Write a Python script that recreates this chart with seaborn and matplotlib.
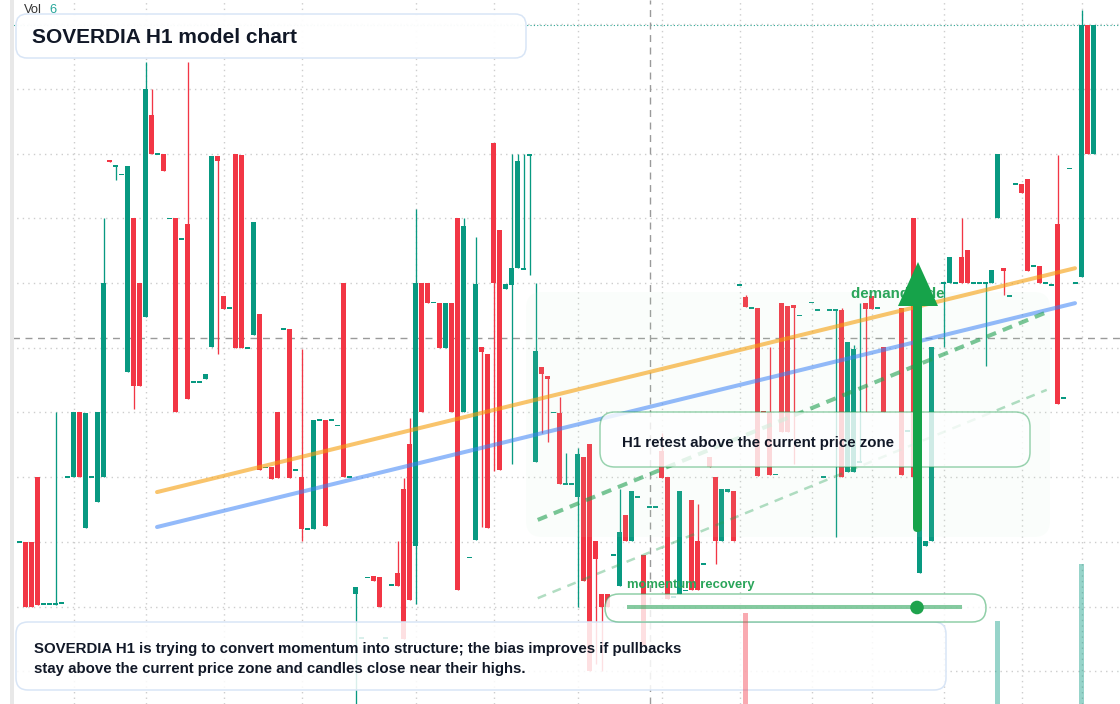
import numpy as np
import pandas as pd
import matplotlib
matplotlib.use("Agg")
import matplotlib.pyplot as plt
import seaborn as sns
from matplotlib.patches import FancyBboxPatch, Polygon, Rectangle, Circle
from matplotlib.colors import to_rgba

nan = np.nan

# ---------------- data (price in grid units, one candle per hour) ----------------
opens = [
    2.00, 2.00, 2.00, 3.00, 1.04, 1.04, 1.03, 1.06, 3.00, 3.00,
    4.00, 2.22, 3.00, 2.62, 3.00, 7.90, 7.79, 7.68, 4.62, 7.00,
    6.00, 5.47, 8.60, 8.00, 8.00, 7.00, 7.00, 6.68, 6.91, 4.47,
    4.47, 4.52, 5.01, 7.96, 5.80, 5.61, 8.00, 7.98, 5.00, 5.20,
    5.52, 3.15, 3.15, 4.00, 5.29, 5.29, 3.11, 3.00, 2.20, 2.20,
    3.88, 3.88, 3.88, 3.80, 6.00, 3.00, 1.19, 0.51, 1.45, 1.48,
    1.45, 0.51, 1.33, 1.52, 2.82, 3.51, 1.93, 6.00, 6.00, 5.70,
    5.70, 5.00, 5.70, 7.00, 4.00, 1.76, 2.03, 5.01, 4.90, 8.17,
    6.82, 5.91, 5.97, 6.24, 6.22, 7.97, 3.24, 4.70, 4.56, 4.00,
    3.99, 2.90, 2.90, 2.70, 3.31, 3.51, 2.01, 1.19, 1.19, 1.80,
    1.32, 2.41, 2.01, 2.69, 1.80, 2.54, 2.54, 3.40, 3.00, 1.15,
    1.19, 1.25, 2.64, 2.01, 1.66, 3.31, 3.00, 2.01, 2.77, 2.78,
    5.97, 5.79, 5.61, 5.61, 4.02, 4.01, 3.04, 5.69, 5.64, 5.66,
    5.50, nan, 5.70, 5.58, 3.00, 5.58, 5.58, 5.58, 3.08, 3.08,
    3.24, 5.69, 5.80, 5.61, 5.01, nan, nan, 5.61, 3.71, 7.00,
    1.52, 1.93, 2.01, nan, 6.00, 6.00, 6.00, 6.40, 6.51, 6.00,
    6.00, 6.00, 6.00, 7.00, 6.23, 5.80, 7.53, 7.53, 7.61, 6.26,
    6.26, 6.00, 5.97, 6.91, 4.22, 7.77, 6.00, 6.09, 9.99, 8.00,
]
highs = [
    2.00, 2.00, 2.00, 3.00, 1.04, 1.04, 4.00, 1.06, 3.00, 4.00,
    4.00, 3.99, 3.00, 4.00, 7.00, 7.90, 7.83, 7.68, 7.81, 7.00,
    6.00, 9.41, 9.00, 8.00, 8.00, 7.00, 7.00, 6.68, 9.41, 4.47,
    4.47, 4.59, 7.97, 7.96, 5.80, 5.61, 8.00, 7.98, 5.00, 6.94,
    5.52, 3.15, 3.15, 4.00, 5.29, 5.29, 3.11, 4.98, 2.20, 3.88,
    3.88, 3.88, 3.88, 3.80, 6.00, 3.00, 1.31, 0.51, 1.45, 1.48,
    1.45, 0.51, 1.33, 2.01, 2.98, 3.92, 7.15, 6.00, 6.00, 5.70,
    5.70, 5.70, 5.70, 7.00, 7.00, 1.76, 6.72, 5.01, 4.90, 8.17,
    6.82, 5.99, 8.00, 8.00, 8.00, 8.00, 6.00, 4.70, 4.56, 4.00,
    4.24, 3.38, 2.90, 3.45, 3.31, 3.51, 2.01, 1.19, 1.19, 1.80,
    2.81, 2.41, 2.78, 2.69, 1.80, 2.54, 2.54, 3.68, 3.00, 1.15,
    2.78, 1.25, 2.64, 2.58, 1.66, 3.31, 3.00, 2.81, 2.81, 2.78,
    5.97, 5.81, 5.61, 5.61, 4.02, 5.01, 3.04, 5.69, 5.64, 5.66,
    5.50, nan, 5.70, 5.58, 3.00, 5.58, 5.58, 5.62, 5.09, 5.04,
    5.70, 5.69, 5.80, 5.61, 5.01, nan, nan, 5.61, 3.71, 7.00,
    3.00, 2.01, 5.01, nan, 6.00, 6.40, 6.00, 7.00, 6.51, 6.00,
    6.00, 6.00, 6.20, 8.00, 6.23, 5.80, 7.53, 7.53, 7.61, 6.26,
    6.26, 6.00, 5.97, 7.98, 4.22, 7.77, 6.00, 10.22, 9.99, 9.99,
]
lows = [
    2.00, 1.00, 1.00, 1.03, 1.04, 1.04, 1.03, 1.06, 3.00, 3.00,
    3.00, 2.22, 3.00, 2.62, 3.00, 7.87, 7.59, 7.68, 4.62, 4.05,
    4.41, 5.47, 8.00, 8.00, 7.73, 7.00, 4.00, 6.68, 4.21, 4.47,
    4.47, 4.52, 5.01, 4.90, 5.60, 5.61, 5.00, 5.00, 5.00, 5.20,
    3.11, 3.15, 2.97, 2.99, 5.29, 2.99, 3.11, 2.01, 2.20, 2.20,
    3.88, 2.25, 3.88, 3.80, 3.00, 3.00, -0.60, 0.51, 1.45, 1.40,
    1.00, 0.51, 1.33, 1.32, 0.50, 1.10, 1.04, 4.00, 5.70, 5.70,
    5.00, 5.00, 4.00, 1.25, 4.00, 1.76, 2.03, 2.23, 2.22, 3.10,
    3.11, 5.91, 3.21, 6.24, 6.22, 6.13, 3.24, 3.69, 3.54, 4.00,
    2.90, 2.90, 2.90, 1.00, 1.40, 0.01, 0.11, 0.00, 1.00, 1.80,
    1.32, 2.01, 2.01, 2.69, 0.41, 2.54, 2.54, 2.99, 1.11, 1.15,
    1.19, 1.25, 1.25, 1.25, 1.66, 3.15, 1.66, 2.01, 2.77, 2.01,
    5.97, 5.63, 5.61, 3.02, 4.00, 3.04, 3.04, 3.70, 3.70, 3.21,
    5.50, nan, 5.70, 5.58, 3.00, 5.58, 2.08, 3.01, 3.08, 3.08,
    3.24, 4.00, 5.60, 5.61, 4.00, nan, nan, 3.03, 3.71, 3.00,
    1.52, 1.93, 2.01, nan, 5.01, 6.00, 6.00, 6.00, 6.00, 6.00,
    6.00, 4.72, 6.00, 7.00, 5.81, 5.80, 7.53, 7.39, 6.18, 6.26,
    6.00, 6.00, 5.97, 4.13, 4.22, 7.77, 6.00, 6.09, 8.00, 8.00,
]
closes = [
    2.00, 1.00, 1.00, 1.03, 1.04, 1.04, 1.06, 1.06, 3.00, 4.00,
    3.00, 3.99, 3.00, 4.00, 6.00, 7.87, 7.83, 7.68, 7.81, 4.41,
    4.41, 9.00, 8.00, 8.00, 7.73, 7.00, 4.00, 6.68, 4.21, 4.47,
    4.47, 4.59, 7.97, 7.89, 5.60, 5.61, 5.00, 5.00, 5.00, 6.94,
    3.11, 3.15, 2.97, 2.99, 5.29, 2.99, 3.11, 2.20, 2.20, 3.88,
    3.88, 2.25, 3.88, 3.80, 3.00, 3.00, 1.31, 0.51, 1.45, 1.40,
    1.00, 0.51, 1.33, 1.32, 0.50, 1.10, 6.00, 4.00, 5.70, 5.70,
    5.00, 5.70, 4.00, 1.25, 6.88, 1.76, 5.98, 4.93, 2.22, 6.00,
    3.11, 5.99, 6.24, 7.88, 6.22, 8.00, 4.95, 4.60, 4.52, 4.00,
    2.90, 2.90, 2.90, 3.36, 1.40, 0.01, 1.74, 1.00, 1.00, 1.80,
    2.15, 2.01, 2.78, 2.69, 0.41, 2.54, 2.54, 2.99, 1.11, 1.15,
    2.78, 1.25, 1.25, 1.25, 1.66, 3.15, 2.01, 2.81, 2.81, 2.01,
    5.97, 5.63, 5.61, 3.02, 4.00, 3.04, 3.04, 3.70, 3.70, 5.61,
    5.50, nan, 5.70, 5.58, 3.00, 5.58, 5.58, 3.01, 5.09, 4.98,
    3.24, 5.60, 5.60, 5.61, 4.00, nan, nan, 3.03, 3.71, 3.00,
    3.00, 2.01, 5.01, nan, 6.00, 6.40, 6.00, 6.00, 6.00, 6.00,
    6.00, 6.00, 6.20, 8.00, 6.19, 5.80, 7.53, 7.39, 6.18, 6.26,
    6.00, 6.00, 5.97, 4.13, 4.22, 7.77, 6.00, 9.99, 8.00, 9.99,
]

vol_index = [121, 163, 177]
vol_value = [9.1, 8.3, 14.0]

grid_prices = [0, 1, 2, 3, 4, 5, 6, 7, 8, 9, 10]
time_grid_index = [9, 21, 34, 47, 66, 79, 93, 107, 120, 132, 142, 154, 167, 177]

trend_x = [22.92, 175.92]
orange_trend = [2.77, 6.23]
blue_trend = [2.23, 5.69]
channel_x = [86.37, 171.2]
channel_upper = [2.34, 5.55]
channel_lower = [1.13, 4.35]
cross_index = 105
cross_price = 5.15

title_text = "SOVERDIA H1 model chart"
note_lines = ["SOVERDIA H1 is trying to convert momentum into structure; the bias improves if pullbacks",
              "stay above the current price zone and candles close near their highs."]
retest_text = "H1 retest above the current price zone"
momentum_text = "momentum recovery"
demand_text = "demand fade"
vol_label = "Vol"
vol_last = "6"

# ---------------- style ----------------
sns.set_theme(style="white")
plt.rcParams['font.family'] = ['Liberation Sans', 'DejaVu Sans']

W, H = 1120, 704
PX_UNIT = 64.7      # pixels per price unit
Y_ZERO = 671.3      # pixel row of price 0
X0, DX = 19.5, 6.0  # pixel centre of first candle, spacing

GREEN = '#089981'
RED = '#f23645'
TXT = '#111827'
ZG = '#22a052'

fig = plt.figure(figsize=(W / 100, H / 100), dpi=100)
ax = fig.add_axes([0, 0, 1, 1])
ax.set_facecolor('white')

df = pd.DataFrame(dict(i=np.arange(len(opens)), o=opens, h=highs, l=lows, c=closes)).dropna()
up = df.c >= df.o
cols = np.where(up, GREEN, RED)

minh = 1.7 / PX_UNIT
lo = np.minimum(df.o, df.c).to_numpy()
hi = np.maximum(df.o, df.c).to_numpy()
mid = (lo + hi) / 2
small = (hi - lo) < minh
lo = np.where(small, mid - minh / 2, lo)
hi = np.where(small, mid + minh / 2, hi)

ax.vlines(df.i, df.l, df.h, colors=cols, lw=0.95, zorder=2)
ax.bar(df.i, hi - lo, bottom=lo, width=5 / 6, color=cols, lw=0, zorder=2.5)

ax.set_xlim((0 - X0) / DX, (W - X0) / DX)
ax.set_ylim((Y_ZERO - H) / PX_UNIT, Y_ZERO / PX_UNIT)
ax.set_yticks(grid_prices)
ax.set_xticks(time_grid_index)
ax.grid(True, color='#cdcdcd', lw=1.0, ls=(0, (1, 3)))
ax.set_axisbelow(True)
ax.tick_params(length=0, labelleft=False, labelbottom=False)
for s in ax.spines.values():
    s.set_visible(False)

# last price line
ax.axhline(closes[-1], color=GREEN, lw=0.8, ls=(0, (1, 2)), alpha=0.85, zorder=1.5)
# crosshair
ax.axvline(cross_index, color='#9a9a9a', lw=1.0, ls=(0, (5, 4)), zorder=1.6)
ax.axhline(cross_price, color='#9a9a9a', lw=1.0, ls=(0, (5, 4)), zorder=1.6)

# overlay axes in pixel coordinates
oax = fig.add_axes([0, 0, 1, 1], label='overlay')
oax.set_xlim(0, W)
oax.set_ylim(H, 0)
oax.set_axis_off()
oax.patch.set_visible(False)

# zone shading above candles
zone = FancyBboxPatch((526, 292), 524, 245, boxstyle="round,pad=0,rounding_size=16",
                      transform=oax.transData, facecolor=to_rgba('#c5eecd', 0.08),
                      edgecolor='none', zorder=3)
ax.add_patch(zone)

# trend lines via seaborn
sns.lineplot(x=trend_x, y=orange_trend, ax=ax, color='#f59e0b', lw=2.9, alpha=0.6, zorder=4)
sns.lineplot(x=trend_x, y=blue_trend, ax=ax, color='#3b82f6', lw=2.9, alpha=0.55, zorder=4)
sns.lineplot(x=channel_x, y=channel_upper, ax=ax, color=ZG, lw=2.9, alpha=0.6, zorder=4)
ax.lines[-1].set_dashes([2.5, 1.8])
sns.lineplot(x=channel_x, y=channel_lower, ax=ax, color=ZG, lw=1.8, alpha=0.35, zorder=4)
ax.lines[-1].set_dashes([3.6, 2.8])

# volume
vax = ax.twinx()
vax.set_ylim(0, H / 10)
vcols = [GREEN if closes[i] >= opens[i] else RED for i in vol_index]
vax.bar(vol_index, vol_value, width=5 / 6, color=vcols, alpha=0.42, lw=0)
vax.set_axis_off()
vax.set_xlim(ax.get_xlim())

# left margin and strip
oax.add_patch(Rectangle((0, 0), 10, H, facecolor='white', edgecolor='none', zorder=1))
oax.add_patch(Rectangle((10, 0), 4, H, facecolor='#e8e8e8', edgecolor='none', zorder=1))


def rbox(x0, y0, x1, y1, r, fa, ec, z, lw=1.1):
    p = FancyBboxPatch((x0, y0), x1 - x0, y1 - y0, boxstyle=f"round,pad=0,rounding_size={r}",
                       facecolor=to_rgba('white', fa), edgecolor=ec, lw=lw, zorder=z)
    oax.add_patch(p)
    return p


rbox(16, 14, 526, 58, 11, 0.96, '#d8e5f6', 5)
rbox(16, 622, 946, 690, 12, 0.85, '#d8e5f6', 5)
rbox(600, 412, 1030, 467, 15, 0.8, to_rgba(ZG, 0.45), 5)
rbox(605, 594, 986, 622, 14, 0.8, to_rgba(ZG, 0.5), 5)

# slider inside momentum box
oax.plot([627, 962], [607, 607], color=ZG, lw=2.9, alpha=0.55, solid_capstyle='butt', zorder=6)
oax.add_patch(Circle((917, 607.5), 6.8, facecolor='#1fa34d', edgecolor='none', zorder=7))

# texts
t_title = oax.text(32, 43.3, title_text, weight='bold', color=TXT, size=15, va='baseline', zorder=8)
t_n1 = oax.text(34, 652.5, note_lines[0], weight='bold', color=TXT, size=11, va='baseline', zorder=8)
t_n2 = oax.text(34, 672.5, note_lines[1], weight='bold', color=TXT, size=11, va='baseline', zorder=8)
t_ret = oax.text(622, 446.5, retest_text, weight='bold', color=TXT, size=11, va='baseline', zorder=8)
t_mom = oax.text(627, 588, momentum_text, weight='bold', color='#2aa55a', size=10, va='baseline', zorder=8)
t_dem = oax.text(851, 298, demand_text, weight='bold', color='#2aa55a', size=10.5, va='baseline', zorder=6)
t_vol = oax.text(24, 12.7, vol_label, color='#333333', size=10, va='baseline', zorder=8)
t_v6 = oax.text(49, 12.7, vol_last, color='#26a69a', size=10, va='baseline', zorder=8)

# big arrow (drawn on top)
ARR = '#16a34a'
oax.add_patch(FancyBboxPatch((913, 296), 9, 236, boxstyle="round,pad=0,rounding_size=4.5",
                             facecolor=ARR, edgecolor='none', zorder=9))
oax.add_patch(Polygon([(898, 306), (938, 306), (918, 262)], closed=True,
                      facecolor=ARR, edgecolor='none', zorder=9))

# fit text widths
fig.canvas.draw()
r = fig.canvas.get_renderer()


def fit(t, target):
    w = t.get_window_extent(r).width
    t.set_fontsize(t.get_fontsize() * target / w)


fit(t_title, 266)
fit(t_n1, 649)
t_n2.set_fontsize(t_n1.get_fontsize())
fit(t_ret, 272)
fit(t_mom, 128)
fit(t_dem, 94)
fit(t_vol, 18)
t_v6.set_fontsize(t_vol.get_fontsize())

fig.savefig('out.png', dpi=100)
